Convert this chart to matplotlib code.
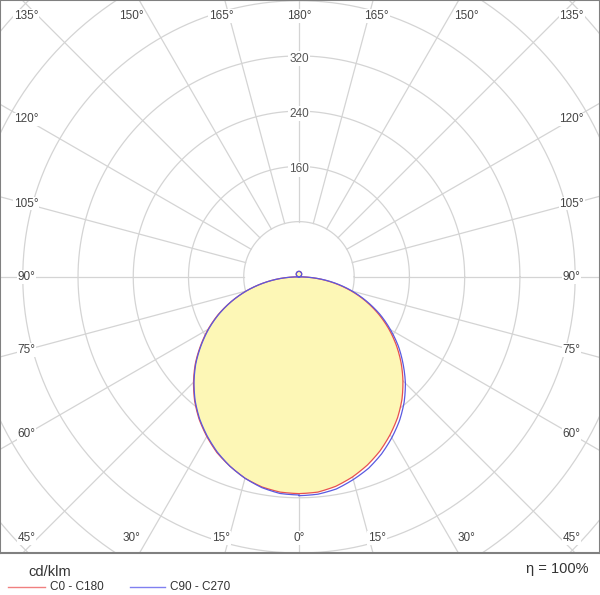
import numpy as np
import matplotlib
matplotlib.use("Agg")
import matplotlib.pyplot as plt

plt.rcParams["font.family"] = ["Liberation Sans", "DejaVu Sans"]

# gamma angles (deg) and intensities (cd/klm) per C-plane
gamma = [0, 5, 10, 15, 20, 25, 30, 35, 40, 45, 50, 55, 60, 65, 70, 75, 80, 85, 90,
         95, 100, 110, 120, 130, 140, 150, 160, 170, 180]
up = [0.7, 1.4, 2.7, 4.0, 5.1, 6.1, 6.9, 7.5, 7.9, 8.0]
c0 = [314, 313, 308, 300, 290, 278, 264, 249, 232, 213, 193, 172, 150, 127, 103, 78, 52, 26, 0] + up
c180 = [314, 313, 309, 302, 292, 281, 267, 252, 235, 216, 196, 174, 152, 129, 104, 79, 53, 27, 0] + up
c90 = [317, 316, 312, 304, 295, 283, 269, 254, 237, 218, 197, 176, 153, 130, 105, 80, 54, 27, 0] + up
c270 = [316, 315, 310, 302, 292, 280, 266, 251, 234, 215, 195, 173, 151, 128, 104, 79, 53, 27, 0] + up
ring_values = [80, 160, 240, 320, 400, 480, 560]
ring_labels = [160, 240, 320]
angle_ticks = list(range(0, 181, 15))

XL, XR, YB, YT = -433, 436, -400, 401


def curve(right, left):
    g = np.radians(np.linspace(0, 180, 721))
    gd = np.degrees(g)
    r = np.interp(gd, gamma, right)
    l = np.interp(gd, gamma, left)
    xr, yr = r * np.sin(g), -r * np.cos(g)
    xl, yl = -l * np.sin(g), -l * np.cos(g)
    return np.r_[xr, xl[::-1]], np.r_[yr, yl[::-1]]


fig = plt.figure(figsize=(6, 5.95), dpi=100)
ax = fig.add_axes([0, 42 / 595, 1, 553 / 595])
ax.set_xlim(XL, XR)
ax.set_ylim(YB, YT)
ax.set_xticks([])
ax.set_yticks([])
for s in ax.spines.values():
    s.set_color("#808080")
    s.set_linewidth(1.5)

grid = "#d4d4d4"
t = np.linspace(0, 2 * np.pi, 400)
for rv in ring_values:
    ax.plot(rv * np.cos(t), rv * np.sin(t), color=grid, lw=0.9, zorder=1)
for a in range(0, 360, 15):
    ar = np.radians(a)
    ax.plot([80 * np.sin(ar), 800 * np.sin(ar)], [-80 * np.cos(ar), -800 * np.cos(ar)],
            color=grid, lw=0.9, zorder=1)

xr, yr = curve(c0, c180)
xb, yb = curve(c90, c270)
ax.fill(xr, yr, color="#fdf7b6", zorder=2, lw=0)
ax.plot(xr, yr, color="#e85050", lw=0.9, zorder=3)
ax.plot(xb, yb, color="#5a5ae0", lw=0.9, zorder=3)

for rv in ring_labels:
    ax.text(0, rv - 4, str(rv), ha="center", va="center", fontsize=8.5, color="#555555",
            bbox=dict(facecolor="white", edgecolor="none", pad=1), zorder=4)

# angle labels: project spoke onto a frame, then clamp inside the box
fx, fy = 395, 421
cx, cy = 412, 378
for a in angle_ticks:
    for side in (1, -1):
        if a in (0, 180) and side == -1:
            continue
        ar = np.radians(a)
        dx, dy = side * np.sin(ar), -np.cos(ar)
        k = min(fx / abs(dx) if abs(dx) > 1e-9 else 1e9, fy / abs(dy) if abs(dy) > 1e-9 else 1e9)
        px = np.clip(k * dx, -cx, cx)
        py = np.clip(k * dy, -cy, cy)
        ax.text(px, py, f"{a}°", ha="center", va="center", fontsize=8.5, color="#444444",
                bbox=dict(facecolor="white", edgecolor="none", pad=0.5), zorder=4)

fig.text(28 / 600, 1 - 572 / 595, "cd/klm", fontsize=10.5, va="center", ha="left", color="#333333")
fig.text(588 / 600, 1 - 569 / 595, "η = 100%", fontsize=10.5, va="center", ha="right", color="#333333")
fig.add_artist(plt.Line2D([8 / 600, 45 / 600], [1 - 587 / 595] * 2, color="#f08080", lw=1))
fig.text(50 / 600, 1 - 587 / 595, "C0 - C180", fontsize=8.5, va="center", color="#333333")
fig.add_artist(plt.Line2D([130 / 600, 165 / 600], [1 - 587 / 595] * 2, color="#8080f0", lw=1))
fig.text(170 / 600, 1 - 587 / 595, "C90 - C270", fontsize=8.5, va="center", color="#333333")

fig.savefig("out.png", dpi=100, facecolor="white")
